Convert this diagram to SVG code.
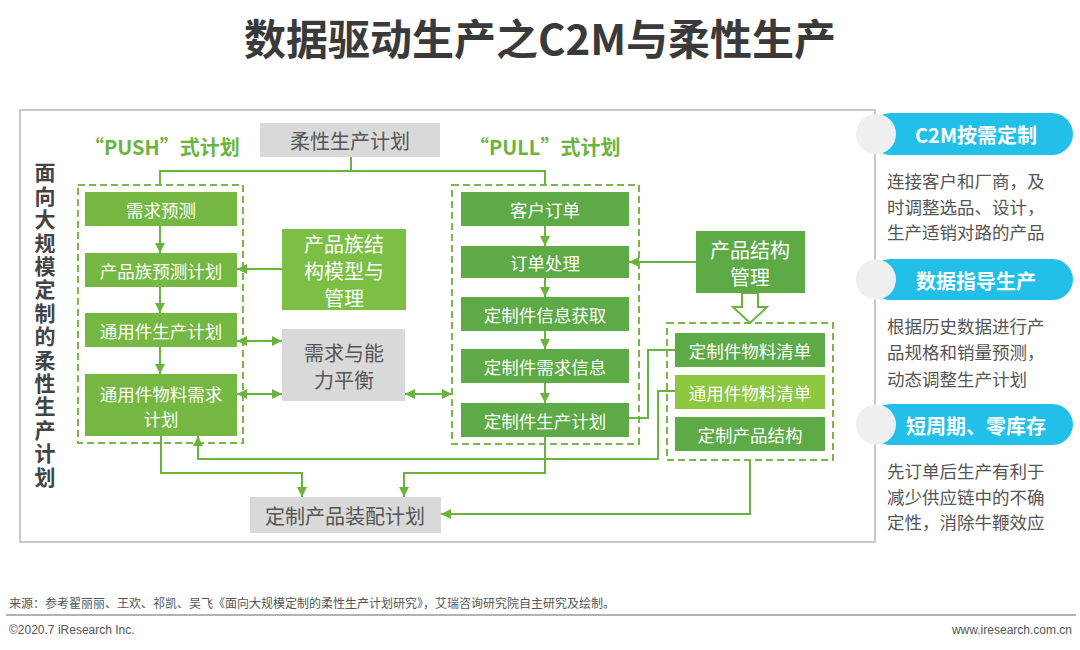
<svg xmlns="http://www.w3.org/2000/svg" width="1080" height="650" viewBox="0 0 1080 650">
<style>
text{font-family:"Noto Sans CJK SC","Liberation Sans",sans-serif;}
.title{font-size:42px;font-weight:bold;fill:#3a3a3a;text-anchor:middle;}
.side{font-size:21px;font-weight:bold;fill:#444;writing-mode:vertical-rl;letter-spacing:2.4px;}
.lbl{font-size:20px;font-weight:bold;fill:#6ab43e;}
.g1{fill:#74b843;}
.g2{fill:#5eaa46;}
.g3{fill:#8dc63f;}
.g4{fill:#7bbf45;}
.gray{fill:#d9d9d9;}
.wt{font-size:17.5px;fill:#fff;text-anchor:middle;dominant-baseline:central;}
.wt2{font-size:20px;fill:#fff;text-anchor:middle;dominant-baseline:central;}
.gt{font-size:20px;fill:#555;text-anchor:middle;dominant-baseline:central;}
.dash{fill:none;stroke:#7ab648;stroke-width:2;stroke-dasharray:7 4;}
.ln{fill:none;stroke:#6ab43e;stroke-width:2;}
.pill{fill:#22bfe9;}
.pt{font-size:20px;font-weight:bold;fill:#fff;text-anchor:middle;dominant-baseline:central;}
.dot{fill:#efefef;}
.body{font-size:17.5px;fill:#555;}
.foot{font-size:12px;fill:#555;}
</style>
<defs>
<marker id="ah" viewBox="0 0 10 10" refX="10" refY="5" markerWidth="10" markerHeight="10" markerUnits="userSpaceOnUse" orient="auto-start-reverse">
<path d="M0,0 L10,5 L0,10 Z" fill="#6ab43e"/>
</marker>
</defs>
<rect width="1080" height="650" fill="#fff"/>
<text class="title" x="540" y="55">数据驱动生产之C2M与柔性生产</text>
<rect x="20" y="110" width="855" height="432" fill="#fff" stroke="#c8c8c8" stroke-width="2"/>

<g id="side-title">
<text class="side" x="45" y="162">面向大规模定制的柔性生产计划</text>
</g>

<text class="lbl" x="84" y="155">“PUSH”式计划</text>
<text class="lbl" x="469" y="155">“PULL”式计划</text>

<rect class="dash" x="78" y="185" width="165" height="258"/>
<rect class="dash" x="452" y="185" width="187" height="259"/>
<rect class="dash" x="667" y="323" width="166" height="137"/>

<g id="connectors">
<path class="ln" d="M351,157 V171"/>
<path class="ln" d="M160,185 V171 H545 V185"/>
<path class="ln" d="M160,226 V253" marker-end="url(#ah)"/>
<path class="ln" d="M160,287 V313" marker-end="url(#ah)"/>
<path class="ln" d="M160,347 V374" marker-end="url(#ah)"/>
<path class="ln" d="M282,269 H237" marker-end="url(#ah)"/>
<path class="ln" d="M237,341 H282" marker-start="url(#ah)" marker-end="url(#ah)"/>
<path class="ln" d="M237,394 H282" marker-start="url(#ah)" marker-end="url(#ah)"/>
<path class="ln" d="M405,394 H452" marker-start="url(#ah)" marker-end="url(#ah)"/>
<path class="ln" d="M545,226 V246" marker-end="url(#ah)"/>
<path class="ln" d="M545,278 V297" marker-end="url(#ah)"/>
<path class="ln" d="M545,331 V349" marker-end="url(#ah)"/>
<path class="ln" d="M545,383 V403" marker-end="url(#ah)"/>
<path class="ln" d="M696,262 H629" marker-end="url(#ah)"/>
<path class="ln" d="M629,418 H648 V350 H675"/>
<path class="ln" d="M675,391 H658 V459 H198 V436" marker-end="url(#ah)"/>
<path class="ln" d="M161,436 V473 H302 V497" marker-end="url(#ah)"/>
<path class="ln" d="M545,437 V473 H404 V497" marker-end="url(#ah)"/>
<path class="ln" d="M750,460 V514 H441" marker-end="url(#ah)"/>
<polygon points="742,293 758,293 758,307 767,307 750,323 733,307 742,307" fill="#fff" stroke="#6ab43e" stroke-width="2"/>
</g>

<g id="n-plan"><rect class="gray" x="260" y="123" width="180" height="34"/><text class="gt" x="350" y="140">柔性生产计划</text></g>

<g id="n-xqyc"><rect class="g1" x="85" y="192" width="152" height="34"/><text class="wt" x="161" y="209">需求预测</text></g>
<g id="n-cpzyc"><rect class="g1" x="85" y="253" width="152" height="34"/><text class="wt" x="161" y="270">产品族预测计划</text></g>
<g id="n-tyscjh"><rect class="g1" x="85" y="313" width="152" height="34"/><text class="wt" x="161" y="330">通用件生产计划</text></g>
<g id="n-tywl"><rect class="g1" x="85" y="374" width="152" height="62"/><text class="wt" x="161" y="393">通用件物料需求</text><text class="wt" x="161" y="418">计划</text></g>

<g id="n-cpzjg"><rect class="g4" x="282" y="229" width="124" height="81"/><text class="wt2" x="344" y="243">产品族结</text><text class="wt2" x="344" y="270">构模型与</text><text class="wt2" x="344" y="297">管理</text></g>
<g id="n-balance"><rect class="gray" x="282" y="329" width="123" height="72"/><text class="gt" x="344" y="352">需求与能</text><text class="gt" x="344" y="379">力平衡</text></g>

<g id="n-khdd"><rect class="g2" x="461" y="192" width="168" height="34"/><text class="wt" x="545" y="209">客户订单</text></g>
<g id="n-ddcl"><rect class="g2" x="461" y="246" width="168" height="32"/><text class="wt" x="545" y="262">订单处理</text></g>
<g id="n-xxhq"><rect class="g2" x="461" y="297" width="168" height="34"/><text class="wt" x="545" y="314">定制件信息获取</text></g>
<g id="n-xqxx"><rect class="g2" x="461" y="349" width="168" height="34"/><text class="wt" x="545" y="366">定制件需求信息</text></g>
<g id="n-scjh"><rect class="g2" x="461" y="403" width="168" height="34"/><text class="wt" x="545" y="420">定制件生产计划</text></g>

<g id="n-cpjg"><rect class="g2" x="696" y="231" width="109" height="62"/><text class="wt2" x="750" y="249">产品结构</text><text class="wt2" x="750" y="276">管理</text></g>

<g id="n-dzwl"><rect class="g2" x="675" y="333" width="150" height="34"/><text class="wt" x="750" y="350">定制件物料清单</text></g>
<g id="n-tyqd"><rect class="g3" x="675" y="375" width="150" height="34"/><text class="wt" x="750" y="392">通用件物料清单</text></g>
<g id="n-dzjg"><rect class="g2" x="675" y="417" width="150" height="34"/><text class="wt" x="750" y="434">定制产品结构</text></g>

<g id="n-zp"><rect class="gray" x="250" y="497" width="191" height="36"/><text class="gt" x="345" y="515">定制产品装配计划</text></g>

<g id="panel1">
<rect class="pill" x="870" y="113" width="203" height="42" rx="21"/>
<circle class="dot" cx="876" cy="134" r="20"/>
<text class="pt" x="976" y="134">C2M按需定制</text>
<text class="body"><tspan x="887" y="188">连接客户和厂商，及</tspan><tspan x="887" y="214">时调整选品、设计，</tspan><tspan x="887" y="239">生产适销对路的产品</tspan></text>
</g>
<g id="panel2">
<rect class="pill" x="870" y="259" width="203" height="41" rx="20.5"/>
<circle class="dot" cx="876" cy="279.5" r="20"/>
<text class="pt" x="976" y="280">数据指导生产</text>
<text class="body"><tspan x="887" y="333">根据历史数据进行产</tspan><tspan x="887" y="359">品规格和销量预测，</tspan><tspan x="887" y="386">动态调整生产计划</tspan></text>
</g>
<g id="panel3">
<rect class="pill" x="870" y="404" width="203" height="41" rx="20.5"/>
<circle class="dot" cx="876" cy="424.5" r="20"/>
<text class="pt" x="976" y="425">短周期、零库存</text>
<text class="body"><tspan x="887" y="478">先订单后生产有利于</tspan><tspan x="887" y="504">减少供应链中的不确</tspan><tspan x="887" y="529">定性，消除牛鞭效应</tspan></text>
</g>

<text class="foot" x="9" y="608">来源：参考翟丽丽、王欢、祁凯、吴飞《面向大规模定制的柔性生产计划研究》，艾瑞咨询研究院自主研究及绘制。</text>
<line x1="6" y1="615" x2="1076" y2="615" stroke="#999" stroke-width="1.5"/>
<text class="foot" x="9" y="634" style="font-family:'Liberation Sans Narrow','Liberation Sans',sans-serif">©2020.7 iResearch Inc.</text>
<text class="foot" x="1072" y="634" text-anchor="end" style="font-family:'Liberation Sans Narrow','Liberation Sans',sans-serif">www.iresearch.com.cn</text>
</svg>
